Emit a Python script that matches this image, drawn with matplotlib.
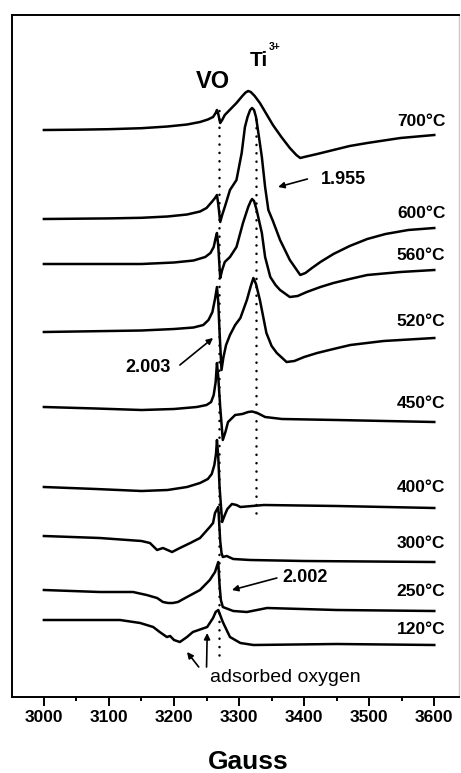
import matplotlib
matplotlib.use("Agg")
import matplotlib.pyplot as plt
from matplotlib.ticker import MultipleLocator

plt.rcParams['font.family'] = ['Liberation Sans', 'DejaVu Sans']

# EPR spectra after annealing, field in Gauss, signal in arbitrary units
# (each trace is relative to its own left baseline)
temps = ['700°C', '600°C', '560°C', '520°C', '450°C', '400°C', '300°C', '250°C', '120°C']
offsets = [567, 478, 433, 365, 290, 210, 161, 107, 77]

field_700 = [3000, 3050, 3100, 3150, 3190, 3220, 3240, 3252, 3260, 3264, 3266, 3268, 3271, 3274, 3278,
             3287, 3296, 3305, 3310, 3314, 3318, 3324, 3332, 3342, 3352, 3365, 3378, 3388, 3394, 3400,
             3420, 3445, 3470, 3497, 3548, 3600]
sig_700 = [0, 0.3, 0.8, 1.8, 3.5, 5.5, 8, 10.5, 13, 17, 20, 16, 7, 10, 15,
           21, 27, 34, 37.5, 39, 38, 34, 27, 16, 5, -7, -18, -25, -28, -27,
           -24, -20, -16, -13, -8, -5]

field_600 = [3000, 3050, 3100, 3150, 3190, 3220, 3240, 3250, 3258, 3263, 3266, 3268, 3271, 3274, 3278,
             3286, 3296, 3304, 3309, 3313, 3317, 3320, 3323, 3326, 3329, 3335, 3340, 3345, 3352, 3363,
             3378, 3394, 3402, 3412, 3425, 3445, 3470, 3497, 3525, 3560, 3600]
sig_600 = [0, 0.3, 0.6, 1.2, 2.5, 4.5, 7.5, 11, 17, 21, 24, 15, -3, 4, 12,
           29, 39, 66, 92, 102, 109, 111, 109, 102, 89, 62, 32, 9, -2, -21,
           -41, -56, -54, -49, -43, -35, -27, -20, -15, -11, -9]

field_560 = [3000, 3100, 3150, 3200, 3230, 3248, 3256, 3261, 3264, 3266, 3268, 3271, 3274, 3278, 3286,
             3296, 3306, 3314, 3318, 3320, 3323, 3327, 3335, 3340, 3348, 3356, 3363, 3378, 3390, 3404,
             3425, 3445, 3470, 3497, 3548, 3600]
sig_560 = [0, 0, 0, 1.5, 3.5, 7, 11, 17, 26, 31, 18, -14, -6, 2, 7,
           17, 41, 57, 63, 65, 63, 54, 31, 7, -13, -21, -26, -33, -32, -28,
           -23, -19, -15, -11, -8, -6]

field_520 = [3000, 3100, 3150, 3200, 3230, 3245, 3253, 3259, 3263, 3266, 3268, 3270, 3273, 3276, 3280,
             3286, 3294, 3302, 3312, 3318, 3322, 3326, 3332, 3342, 3350, 3358, 3373, 3385, 3400, 3420,
             3445, 3471, 3522, 3600]
sig_520 = [0, 1, 1.5, 3, 4.5, 7, 12, 20, 33, 45, 30, 0, -38, -25, -13,
           -3, 7, 14, 32, 46, 54, 48, 32, -1, -14, -21, -30, -29, -25, -21,
           -17, -13, -9, -6]

field_450 = [3000, 3080, 3150, 3200, 3235, 3250, 3257, 3261, 3264, 3266, 3268, 3271, 3275, 3279, 3283,
             3294, 3305, 3314, 3320, 3328, 3340, 3366, 3450, 3600]
sig_450 = [0, -1.5, -3, -2, 0, 2, 5, 12, 25, 44, 30, 0, -33, -25, -15,
           -8, -7, -5, -4.5, -6, -10, -12, -13, -15]

field_400 = [3000, 3080, 3150, 3190, 3220, 3240, 3252, 3258, 3262, 3264.5, 3266, 3268, 3270, 3274, 3278,
             3282, 3289, 3296, 3302, 3338, 3450, 3600]
sig_400 = [0, -2, -4, -3, 0, 4, 8, 13, 22, 33, 47, 30, 0, -35, -28,
           -22, -17, -18, -20, -18, -19, -21]

field_300 = [3000, 3086, 3150, 3163, 3174, 3183, 3197, 3209, 3225, 3240, 3255, 3260, 3263, 3268, 3271,
             3273, 3275, 3281, 3291, 3317, 3400, 3600]
sig_300 = [0, -2, -5, -7, -14, -12, -16, -12, -7, -2, 9, 13, 23, 29, -5,
           -17, -21, -20, -23, -24, -25, -26]

field_250 = [3000, 3086, 3137, 3158, 3174, 3183, 3191, 3198, 3206, 3220, 3240, 3255, 3263, 3268, 3270,
             3272, 3275, 3291, 3312, 3343, 3450, 3600]
sig_250 = [0, -2, -2, -5, -8, -12, -13, -13, -12, -7, 0, 10, 18, 28, 5,
           -10, -17, -21, -22, -18, -20, -21]

field_120 = [3000, 3117, 3148, 3168, 3178, 3189, 3194, 3200, 3209, 3220, 3229, 3251, 3260, 3264, 3268,
             3275, 3286, 3302, 3322, 3450, 3600]
sig_120 = [0, 0, -3, -7, -12, -17, -16, -20, -22, -17, -12, -7, 2, 8, 10,
           -2, -17, -23, -25, -24, -25]

fields = [field_700, field_600, field_560, field_520, field_450, field_400, field_300, field_250, field_120]
signals = [sig_700, sig_600, sig_560, sig_520, sig_450, sig_400, sig_300, sig_250, sig_120]

# right-hand labels, vertical centre of each
label_y = [575, 484, 441, 376, 293, 210, 153, 105, 67]

VO_FIELD = 3269
TI_FIELD = 3326

fig = plt.figure(figsize=(4.61, 7.73), dpi=100)
ax = fig.add_axes([12 / 461, 1 - 697 / 773, 447 / 461, 682 / 773])

for f, s, off in zip(fields, signals, offsets):
    ax.plot(f, [off + v for v in s], color='black', lw=1.8, solid_joinstyle='round')

# dotted guides through the VO and Ti3+ lines
ax.plot([VO_FIELD, VO_FIELD], [42, 594], color='black', lw=1.8,
        linestyle=(0, (0.05, 3.3)), dash_capstyle='round')
ax.plot([TI_FIELD, TI_FIELD], [184, 580], color='black', lw=1.8,
        linestyle=(0, (0.05, 3.3)), dash_capstyle='round')

ax.text(3260, 616, 'VO', fontsize=17, fontweight='bold', ha='center', va='center')
ax.text(3331, 636, 'Ti', fontsize=15, fontweight='bold', ha='center', va='center')
ax.text(3354, 650, '3+', fontsize=7.5, fontweight='bold', ha='center', va='center')

for t, y in zip(temps, label_y):
    ax.text(3617, y, t, fontsize=12.5, fontweight='bold', ha='right', va='center')

arrow = dict(arrowstyle='-|>', color='black', lw=1.2, mutation_scale=9, shrinkA=0, shrinkB=0)
ax.text(3425, 517, '1.955', fontsize=13, fontweight='bold', ha='left', va='center')
ax.annotate('', xy=(3360, 510), xytext=(3405, 518), arrowprops=arrow)
ax.text(3160, 329, '2.003', fontsize=13, fontweight='bold', ha='center', va='center')
ax.annotate('', xy=(3260, 359), xytext=(3209, 332), arrowprops=arrow)
ax.text(3366, 119, '2.002', fontsize=13, fontweight='bold', ha='left', va='center')
ax.annotate('', xy=(3289, 107), xytext=(3358, 119), arrowprops=arrow)
ax.text(3256, 20, 'adsorbed oxygen', fontsize=14, ha='left', va='center')
ax.annotate('', xy=(3251, 64), xytext=(3250, 30), arrowprops=arrow)
ax.annotate('', xy=(3220, 45), xytext=(3238, 30), arrowprops=arrow)

ax.set_xlim(2951, 3638)
ax.set_ylim(0, 682)
ax.set_yticks([])
ax.xaxis.set_major_locator(MultipleLocator(100))
ax.xaxis.set_minor_locator(MultipleLocator(50))
ax.tick_params(axis='x', which='major', direction='out', length=6.5, width=1.4, pad=3,
               labelsize=12.5)
ax.tick_params(axis='x', which='minor', direction='out', length=3, width=1.4)
for lbl in ax.get_xticklabels():
    lbl.set_fontweight('bold')
for side in ['left', 'top', 'bottom']:
    ax.spines[side].set_linewidth(1.4)
ax.spines['right'].set_color('#c8c8c8')
ax.spines['right'].set_linewidth(1.0)

fig.text(248 / 461, 1 - 762 / 773, 'Gauss', fontsize=19, fontweight='bold', ha='center', va='center')

fig.savefig('out.png', dpi=100)
